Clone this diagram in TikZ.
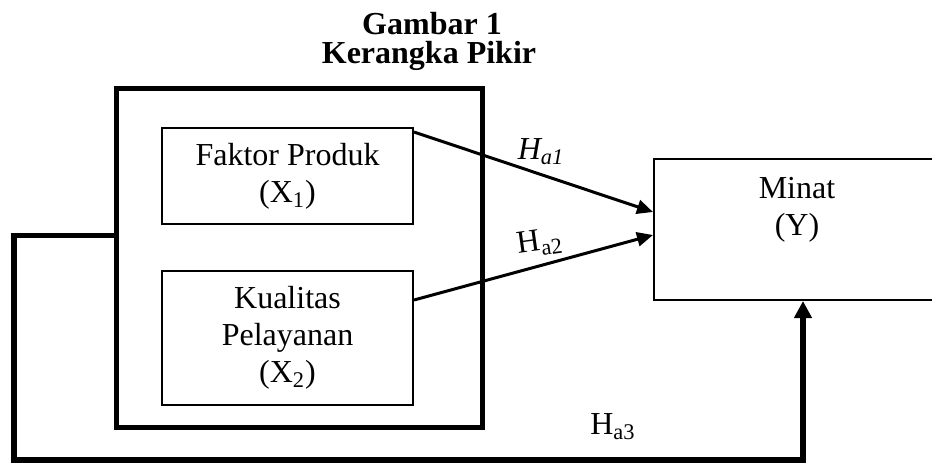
\documentclass[tikz,border=0pt]{standalone}
\usepackage{fontspec}
\setmainfont{Liberation Serif}
\usepackage{tikz}
\usetikzlibrary{arrows.meta,positioning,fit}

\begin{document}
\begin{tikzpicture}[
  x=0.5pt, y=-0.5pt,
  txt/.style={font=\fontsize{16}{18.5}\selectfont, align=center},
  titletxt/.style={font=\fontsize{16}{18.5}\selectfont\bfseries, anchor=base, inner sep=0pt},
  box/.style={draw, line width=1pt, inner sep=0pt, align=center, font=\fontsize{16}{18.5}\selectfont},
  bigbox/.style={draw, line width=2.5pt, inner sep=0pt},
  edge/.style={-{Triangle[length=8pt,width=7pt]}, line width=1.5pt},
  loopedge/.style={-{Triangle[length=8.5pt,width=8.5pt]}, line width=2.75pt},
  hlabel/.style={font=\fontsize{16}{18.5}\selectfont, inner sep=0pt}
]
\clip (0,0) rectangle (932,462);

% --- Judul ---
\node[titletxt] (gambar) at (432,34) {Gambar 1};
\node[titletxt] (kerangka) at (429,63) {Kerangka Pikir};

% --- Variabel X ---
\node[bigbox, fit={(116,88) (482,427)}] (outer) {};
\node[box, minimum width=125.5pt, minimum height=48pt] (faktor) at (287.5,176) {Faktor Produk\\(X\textsubscript{1})};
\node[box, minimum width=125.5pt, minimum height=67pt] (kualitas) at (287.5,338) {Kualitas\\Pelayanan\\(X\textsubscript{2})};

% --- Variabel Y ---
\node[box, minimum width=143pt, minimum height=70.5pt] (minat) at (797,229.5) {};
\node[txt] (minatlbl) at ([yshift=-26pt]minat.north) {Minat\\(Y)};

% Panah hipotesis
\draw[edge] ([yshift=-2.5pt]faktor.north east) -- ([yshift=8.75pt]minat.west);
\draw[edge] ([yshift=19pt]kualitas.east) -- ([yshift=-2.75pt]minat.west);

% Panah simultan
\coordinate (loopbl) at (14,460);
\draw[loopedge] ([yshift=11pt]outer.west) -| (loopbl) -| ([xshift=3pt]minat.south);

\node[hlabel] (ha1) at (541,152) {\textit{H\textsubscript{a1}}};
\node[hlabel, rotate=8] (ha2) at (540,243) {H\textsubscript{a2}};
\node[hlabel] (ha3) at (613,427) {H\textsubscript{a3}};
\end{tikzpicture}
\end{document}
